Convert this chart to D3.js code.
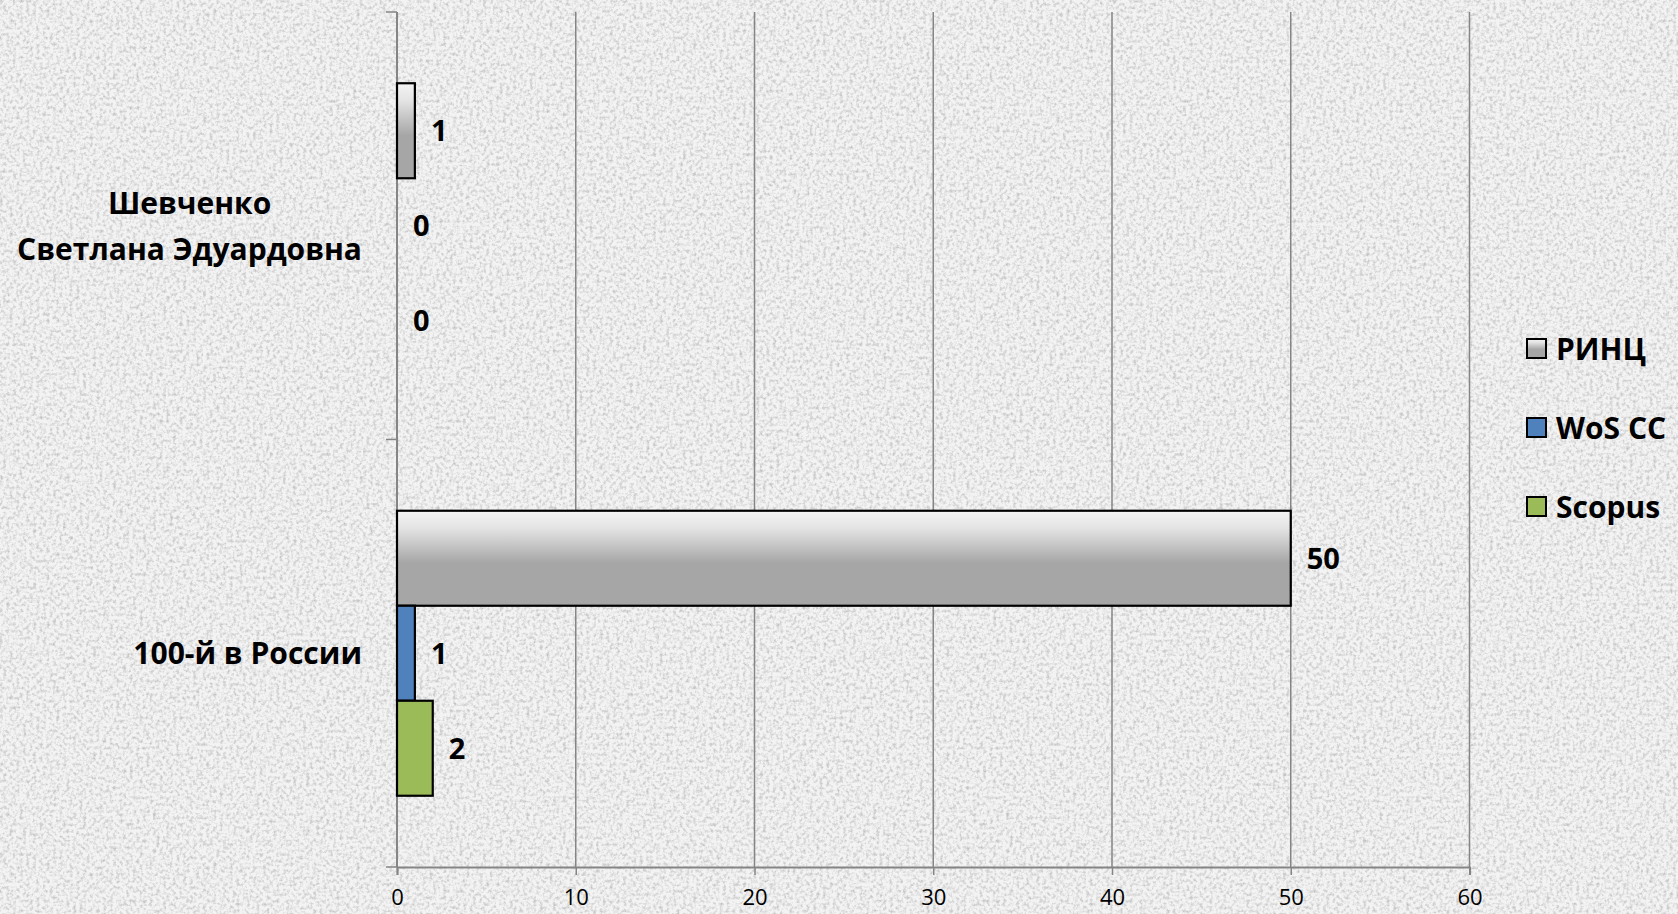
<!DOCTYPE html>
<html>
<head>
<meta charset="utf-8">
<script src="https://cdn.jsdelivr.net/npm/d3@7"></script>
<style>
html,body{margin:0;padding:0;background:#e9e9e9;}
svg{display:block;}
text{font-family:"Open Sans","Noto Sans",sans-serif;}
</style>
</head>
<body>
<svg id="chart" width="1678" height="914"></svg>
<script>
// ---- data ----
const categories = [["Шевченко", "Светлана Эдуардовна"], ["100-й в России"]];
const seriesNames = ["РИНЦ", "WoS CC", "Scopus"];
const rincValues = [1, 50];
const wosValues = [0, 1];
const scopusValues = [0, 2];
const xTicks = [0, 10, 20, 30, 40, 50, 60];

const W = 1678, H = 914;
const svg = d3.select("#chart");
const defs = svg.append("defs");

// background texture
const f = defs.append("filter").attr("id", "tex").attr("x", 0).attr("y", 0).attr("width", "100%").attr("height", "100%");
f.append("feTurbulence").attr("type", "fractalNoise").attr("baseFrequency", "0.3").attr("numOctaves", 3).attr("seed", 4).attr("result", "n");
f.append("feColorMatrix").attr("in", "n").attr("type", "matrix")
  .attr("values", "0 0 0 0 0  0 0 0 0 0  0 0 0 0 0  0 0 0 -2.2 1.25")
  .attr("result", "a");
f.append("feFlood").attr("flood-color", "#a0a0a0").attr("result", "c");
f.append("feComposite").attr("in", "c").attr("in2", "a").attr("operator", "in");
svg.append("rect").attr("width", W).attr("height", H).attr("fill", "#f3f3f3");
svg.append("rect").attr("width", W).attr("height", H).attr("fill", "#fff").attr("filter", "url(#tex)").attr("opacity", 0.6);

// gradient for РИНЦ
const g1 = defs.append("linearGradient").attr("id", "gray").attr("x1", 0).attr("y1", 0).attr("x2", 0).attr("y2", 1);
g1.append("stop").attr("offset", "0%").attr("stop-color", "#f4f4f4");
g1.append("stop").attr("offset", "18%").attr("stop-color", "#e4e4e4");
g1.append("stop").attr("offset", "55%").attr("stop-color", "#a6a6a6");
g1.append("stop").attr("offset", "100%").attr("stop-color", "#a6a6a6");

const fills = ["url(#gray)", "#4f81bd", "#9bbb59"];
const seriesValues = [rincValues, wosValues, scopusValues];

const plot = {left: 397, right: 1469.5, top: 12, bottom: 867};

const x = d3.scaleLinear().domain([0, 60]).range([plot.left, plot.right]);
const y = d3.scaleBand().domain(d3.range(categories.length)).range([plot.top, plot.bottom]).paddingInner(0).paddingOuter(0);
const yInner = d3.scaleBand().domain(d3.range(seriesNames.length)).range([0, y.bandwidth()]).paddingInner(0).paddingOuter(0.75);

// gridlines
svg.append("g").selectAll("line").data(xTicks.slice(1)).join("line")
  .attr("x1", d => x(d)).attr("x2", d => x(d))
  .attr("y1", plot.top).attr("y2", plot.bottom)
  .attr("stroke", "#858585").attr("stroke-width", 1.5);

// x axis
const xAxis = d3.axisBottom(x).tickValues(xTicks).tickSize(8).tickPadding(14).tickFormat(d3.format("d"));
const gx = svg.append("g").attr("transform", `translate(0,${plot.bottom})`).call(xAxis);
gx.select(".domain").attr("stroke", "#858585").attr("stroke-width", 2);
gx.selectAll(".tick line").attr("stroke", "#858585").attr("stroke-width", 1.5);
gx.selectAll(".tick text").attr("fill", "#000").style("font-size", "22px").style("font-family", "'Open Sans',sans-serif");

// y axis line + ticks
const yLine = svg.append("g");
yLine.append("line").attr("x1", plot.left).attr("x2", plot.left).attr("y1", plot.top).attr("y2", plot.bottom)
  .attr("stroke", "#858585").attr("stroke-width", 2);
const yTickPos = d3.range(categories.length + 1).map(i => i < categories.length ? y(i) : y(i - 1) + y.bandwidth());
yLine.selectAll("line.t").data(yTickPos).join("line").attr("class", "t")
  .attr("x1", plot.left - 11).attr("x2", plot.left).attr("y1", d => d).attr("y2", d => d)
  .attr("stroke", "#858585").attr("stroke-width", 1.5);

// bars
const barData = [];
categories.forEach((c, ci) => {
  seriesNames.forEach((s, si) => {
    barData.push({ci, si, v: seriesValues[si][ci]});
  });
});
const bars = svg.append("g");
bars.selectAll("rect").data(barData.filter(d => d.v > 0)).join("rect")
  .attr("x", x(0))
  .attr("y", d => y(d.ci) + yInner(d.si))
  .attr("width", d => x(d.v) - x(0))
  .attr("height", yInner.bandwidth())
  .attr("fill", d => fills[d.si])
  .attr("stroke", "#000").attr("stroke-width", 2.2);

// value labels
svg.append("g").selectAll("text").data(barData).join("text")
  .attr("x", d => x(d.v) + 16)
  .attr("y", d => y(d.ci) + yInner(d.si) + yInner.bandwidth() / 2)
  .attr("dy", "0.36em")
  .style("font-size", "29px").style("font-weight", "bold").attr("fill", "#000")
  .text(d => d.v);

// category labels
const catG = svg.append("g");
categories.forEach((lines, ci) => {
  const cy = y(ci) + y.bandwidth() / 2;
  const lh = 46;
  const t = catG.append("text").style("font-size", "30px").style("font-weight", "bold").attr("fill", "#000");
  const spans = lines.map((l, i) => t.append("tspan").text(l)
    .attr("y", cy + (i - (lines.length - 1) / 2) * lh).attr("dy", "0.36em"));
  const widths = spans.map(s => s.node().getComputedTextLength());
  const maxW = d3.max(widths);
  const right = 362;
  spans.forEach(s => s.attr("x", right - maxW / 2).attr("text-anchor", "middle"));
});

// legend
const leg = svg.append("g");
const legY = [349, 428, 507];
seriesNames.forEach((s, i) => {
  leg.append("rect").attr("x", 1527).attr("y", legY[i] - 10).attr("width", 19).attr("height", 19)
    .attr("fill", fills[i]).attr("stroke", "#000").attr("stroke-width", 2);
  leg.append("text").attr("x", 1556).attr("y", legY[i]).attr("dy", "0.36em")
    .style("font-size", "30px").style("font-weight", "bold").attr("fill", "#000").text(s);
});
</script>
</body>
</html>
